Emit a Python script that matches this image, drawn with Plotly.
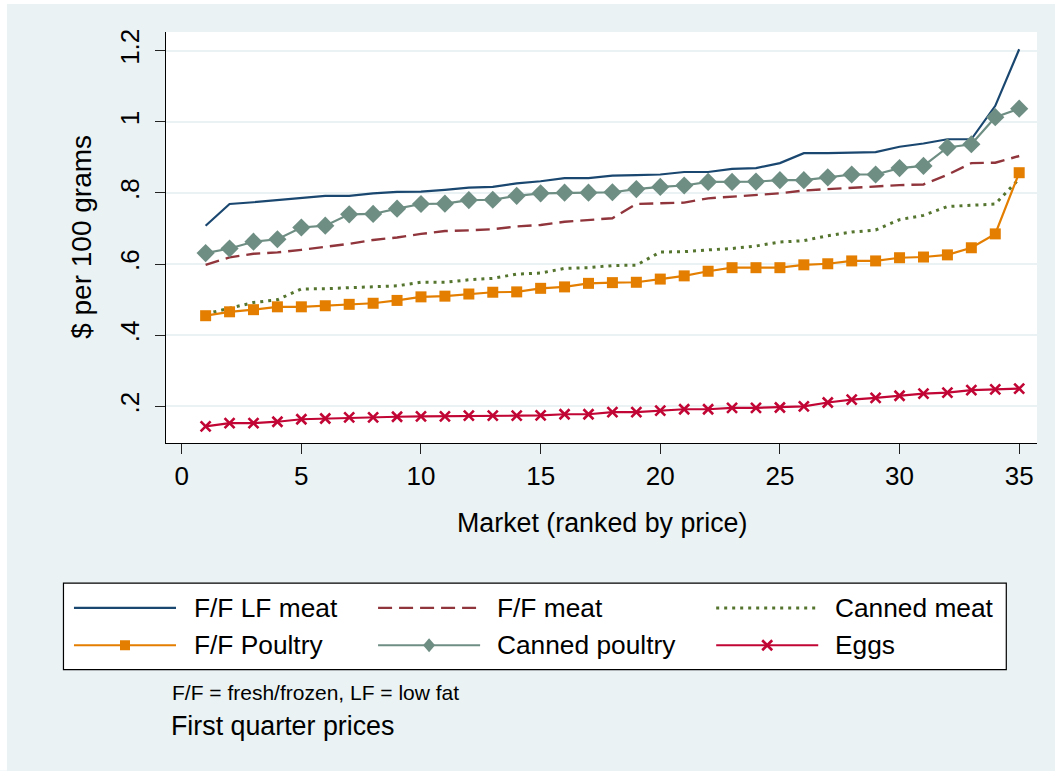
import plotly.graph_objects as go

# ---------------- data ----------------
market = list(range(1, 36))
series_names = ["F/F LF meat", "F/F meat", "Canned meat", "F/F Poultry", "Canned poultry", "Eggs"]

lf_meat = [0.708, 0.769, 0.774, 0.780, 0.788, 0.792, 0.792, 0.799, 0.803, 0.804, 0.809, 0.815,
           0.817, 0.827, 0.833, 0.842, 0.842, 0.849, 0.850, 0.852, 0.859, 0.859, 0.868, 0.870,
           0.884, 0.912, 0.912, 0.913, 0.915, 0.930, 0.939, 0.951, 0.951, 1.045, 1.204]
ff_meat = [0.598, 0.619, 0.629, 0.633, 0.640, 0.648, 0.657, 0.668, 0.675, 0.685, 0.693, 0.695,
           0.698, 0.706, 0.710, 0.719, 0.725, 0.729, 0.769, 0.770, 0.773, 0.785, 0.790, 0.794,
           0.799, 0.807, 0.811, 0.816, 0.820, 0.822, 0.824, 0.851, 0.884, 0.885, 0.904]
canned_meat = [0.460, 0.476, 0.492, 0.500, 0.530, 0.531, 0.533, 0.536, 0.539, 0.549, 0.549, 0.556,
               0.560, 0.572, 0.575, 0.588, 0.590, 0.596, 0.597, 0.634, 0.635, 0.640, 0.644, 0.651,
               0.662, 0.666, 0.680, 0.690, 0.696, 0.725, 0.737, 0.762, 0.766, 0.769, 0.840]
ff_poultry = [0.455, 0.466, 0.472, 0.480, 0.480, 0.483, 0.487, 0.490, 0.498, 0.508, 0.510, 0.516,
              0.521, 0.522, 0.532, 0.536, 0.546, 0.548, 0.549, 0.558, 0.567, 0.580, 0.590, 0.590,
              0.590, 0.598, 0.601, 0.609, 0.609, 0.618, 0.620, 0.626, 0.646, 0.685, 0.857]
canned_poultry = [0.631, 0.644, 0.663, 0.670, 0.703, 0.708, 0.740, 0.741, 0.756, 0.769, 0.770, 0.780,
                  0.781, 0.792, 0.799, 0.801, 0.801, 0.802, 0.811, 0.817, 0.821, 0.831, 0.831, 0.832,
                  0.836, 0.836, 0.844, 0.852, 0.852, 0.870, 0.876, 0.928, 0.937, 1.013, 1.037]
eggs = [0.144, 0.153, 0.153, 0.157, 0.164, 0.166, 0.169, 0.169, 0.171, 0.172, 0.172, 0.174,
        0.174, 0.174, 0.175, 0.178, 0.178, 0.184, 0.184, 0.188, 0.192, 0.192, 0.196, 0.196,
        0.197, 0.200, 0.211, 0.219, 0.224, 0.230, 0.236, 0.239, 0.246, 0.248, 0.250]

x_ticks = [0, 5, 10, 15, 20, 25, 30, 35]
y_ticks = [0.2, 0.4, 0.6, 0.8, 1.0, 1.2]
y_ticklabels = [".2", ".4", ".6", ".8", "1", "1.2"]

x_title = "Market (ranked by price)"
y_title = "$ per 100 grams"
note_text = "F/F = fresh/frozen, LF = low fat"
caption_text = "First quarter prices"

# ---------------- styles ----------------
NAVY, MAROON, GREEN = "#1a476f", "#90353b", "#55752f"
ORANGE, TEAL, CRAN = "#e37e00", "#6e8e84", "#c10534"
BG = "#eaf2f3"
FONT = "Liberation Sans, Arial, sans-serif"

W, Hh = 1055, 771
L, R, T, B = 166, 1036.7, 32, 443.3
PW, PH = R - L, B - T


def px(x):
    return (x - L) / PW


def py(y):
    return (B - y) / PH


styles = [
    dict(color=NAVY, width=2.2, dash="solid", marker=None),
    dict(color=MAROON, width=2.4, dash="14px,7px", marker=None),
    dict(color=GREEN, width=3, dash="3px,5px", marker=None),
    dict(color=ORANGE, width=2.2, dash="solid", marker="square"),
    dict(color=TEAL, width=2.2, dash="solid", marker="diamond"),
    dict(color=CRAN, width=2.2, dash="solid", marker="x"),
]
values = [lf_meat, ff_meat, canned_meat, ff_poultry, canned_poultry, eggs]

fig = go.Figure()
for name, vals, st in zip(series_names, values, styles):
    kw = dict(x=market, y=vals, name=name, line=dict(color=st["color"], width=st["width"], dash=st["dash"]),
              showlegend=False)
    if st["marker"] == "square":
        kw["mode"] = "lines+markers"
        kw["marker"] = dict(symbol="square", size=11, color=st["color"])
    elif st["marker"] == "diamond":
        kw["mode"] = "lines+markers"
        kw["marker"] = dict(symbol="diamond", size=14, color=st["color"])
    elif st["marker"] == "x":
        kw["mode"] = "lines+markers"
        kw["marker"] = dict(symbol="x-thin", size=10, color=st["color"],
                            line=dict(color=st["color"], width=2.6))
    else:
        kw["mode"] = "lines"
    fig.add_trace(go.Scatter(**kw))

shapes = []
# white outer frame (top / left)
shapes.append(dict(type="rect", xref="paper", yref="paper", x0=px(0), x1=px(W), y0=py(0), y1=py(4),
                   fillcolor="white", line=dict(width=0), layer="below"))
shapes.append(dict(type="rect", xref="paper", yref="paper", x0=px(0), x1=px(7), y0=py(0), y1=py(Hh),
                   fillcolor="white", line=dict(width=0), layer="below"))

# legend box
LX0, LX1, LY0, LY1 = 63.5, 1006, 583.5, 670
shapes.append(dict(type="rect", xref="paper", yref="paper", x0=px(LX0), x1=px(LX1), y0=py(LY0), y1=py(LY1),
                   fillcolor="white", line=dict(color="black", width=1.2)))
col_line_x = [(74, 176), (378, 480), (716, 818)]
col_text_x = [192, 495, 833]
row_y = [608.3, 645.7]
annotations = []
for k, (name, st) in enumerate(zip(series_names, styles)):
    r, c = divmod(k, 3)
    x0, x1 = col_line_x[c]
    yy = row_y[r]
    shapes.append(dict(type="line", xref="paper", yref="paper", x0=px(x0), x1=px(x1), y0=py(yy), y1=py(yy),
                       line=dict(color=st["color"], width=st["width"], dash=st["dash"])))
    cx = (x0 + x1) / 2
    if st["marker"] == "square":
        shapes.append(dict(type="rect", xref="paper", yref="paper", x0=px(cx - 5), x1=px(cx + 5),
                           y0=py(yy - 5), y1=py(yy + 5), fillcolor=st["color"], line=dict(width=0)))
    elif st["marker"] == "diamond":
        path = "M {} {} L {} {} L {} {} L {} {} Z".format(px(cx), py(yy - 7), px(cx + 6), py(yy),
                                                          px(cx), py(yy + 7), px(cx - 6), py(yy))
        shapes.append(dict(type="path", xref="paper", yref="paper", path=path, fillcolor=st["color"],
                           line=dict(width=0)))
    elif st["marker"] == "x":
        for s in (1, -1):
            shapes.append(dict(type="line", xref="paper", yref="paper", x0=px(cx - 5), x1=px(cx + 5),
                               y0=py(yy - 5 * s), y1=py(yy + 5 * s), line=dict(color=st["color"], width=2.6)))
    annotations.append(dict(xref="paper", yref="paper", x=px(col_text_x[c]), y=py(yy), text=name,
                            showarrow=False, xanchor="left", yanchor="middle",
                            font=dict(size=26.3, color="black", family=FONT)))

annotations.append(dict(xref="paper", yref="paper", x=px(170), y=py(693), text=note_text, showarrow=False,
                        xanchor="left", yanchor="middle", font=dict(size=21, color="black", family=FONT)))
annotations.append(dict(xref="paper", yref="paper", x=px(169), y=py(727), text=caption_text, showarrow=False,
                        xanchor="left", yanchor="middle", font=dict(size=26.8, color="black", family=FONT)))
# axis titles
annotations.append(dict(xref="paper", yref="paper", x=0.5, y=py(523), text=x_title, showarrow=False,
                        xanchor="center", yanchor="middle", font=dict(size=26.8, color="black", family=FONT)))
annotations.append(dict(xref="paper", yref="paper", x=px(82), y=py(237), text=y_title, showarrow=False,
                        textangle=-90, xanchor="center", yanchor="middle",
                        font=dict(size=28, color="black", family=FONT)))


def v_of(y):
    return 0.2 + (406.7 - y) / 356.0


def x_of(x):
    return (x - 181.7) / 23.92


fig.update_layout(
    width=W, height=Hh, autosize=False,
    margin=dict(l=L, r=W - R, t=T, b=Hh - B, pad=0),
    paper_bgcolor=BG, plot_bgcolor="white",
    font=dict(family=FONT, size=26, color="black"),
    shapes=shapes, annotations=annotations, showlegend=False,
    xaxis=dict(range=[x_of(L), x_of(R)], tickvals=x_ticks, ticks="outside", ticklen=10, tickwidth=1,
               tickcolor="#222", showline=True, linecolor="black", linewidth=1, showgrid=False, zeroline=False,
               tickfont=dict(size=26, color="black", family=FONT), ticklabelstandoff=0),
    yaxis=dict(range=[v_of(B), v_of(T)], tickvals=y_ticks, ticktext=y_ticklabels, ticks="outside", ticklen=10,
               tickwidth=1, tickcolor="#222", showline=True, linecolor="black", linewidth=1,
               showgrid=True, gridcolor=BG, gridwidth=1.5, zeroline=False, tickangle=-90,
               tickfont=dict(size=26, color="black", family=FONT), ticklabelstandoff=6),
)

fig.write_html("out.html", config={"displayModeBar": False},
               post_script="document.body.style.margin='0';document.body.style.overflow='hidden';")
